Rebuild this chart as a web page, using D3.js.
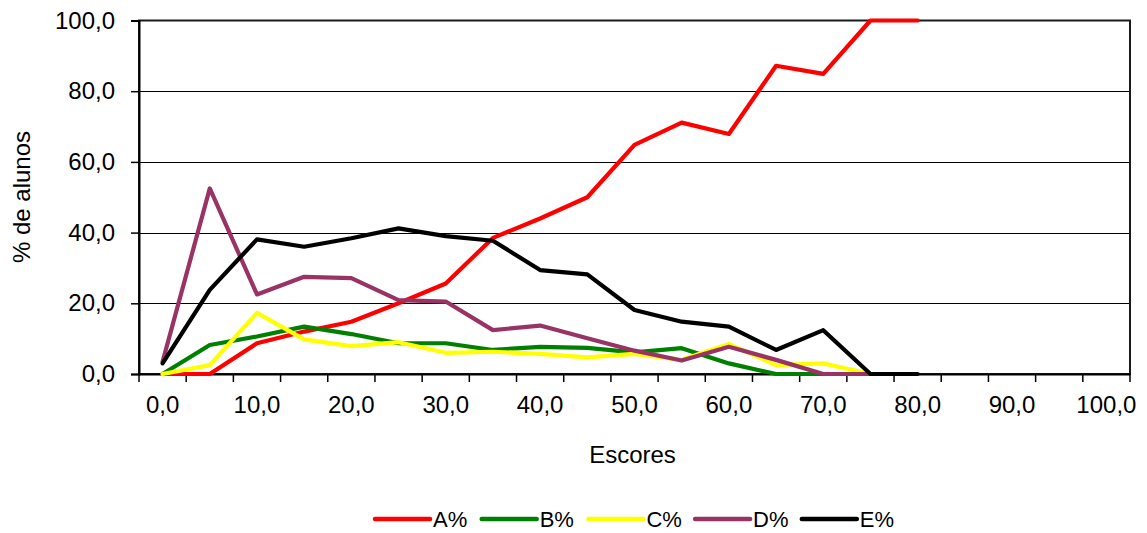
<!DOCTYPE html>
<html>
<head>
<meta charset="utf-8">
<script src="https://cdn.jsdelivr.net/npm/d3@7"></script>
<style>
  html, body { margin: 0; padding: 0; background: #fff; }
  svg { display: block; font-family: "Liberation Sans", Arial, sans-serif; }
</style>
</head>
<body>
<svg id="chart" width="1147" height="533"></svg>
<script>
// ---- data ----
const categories = ["0,0","5,0","10,0","15,0","20,0","25,0","30,0","35,0","40,0","45,0","50,0",
                    "55,0","60,0","65,0","70,0","75,0","80,0","85,0","90,0","95,0","100,0"];
const seriesNames = ["A%","B%","C%","D%","E%"];
const seriesColors = ["#FF0000","#008000","#FFFF00","#993366","#000000"];
const valuesA = [0, 0, 8.7, 12.0, 14.8, 20.0, 25.6, 38.5, 44.0, 50.0, 64.8, 71.1, 67.9, 87.2, 84.9, 100, 100];
const valuesB = [0, 8.2, 10.6, 13.4, 11.3, 8.7, 8.7, 6.8, 7.7, 7.4, 6.1, 7.3, 3.0, 0, 0];
const valuesC = [0, 2.5, 17.3, 9.8, 7.9, 9.0, 6.0, 6.3, 5.7, 4.7, 5.7, 4.0, 8.5, 2.5, 3.0, 0];
const valuesD = [3.5, 52.5, 22.5, 27.5, 27.1, 20.9, 20.5, 12.4, 13.7, 10.1, 6.6, 3.8, 7.7, 4.0, 0, 0];
const valuesE = [3.0, 23.8, 38.1, 36.0, 38.4, 41.2, 39.0, 37.7, 29.4, 28.2, 18.1, 14.8, 13.4, 6.8, 12.4, 0, 0];
const yTicks = [0, 20, 40, 60, 80, 100];
const xLabelEvery = 2;
const xTitle = "Escores";
const yTitle = "% de alunos";

const allValues = [valuesA, valuesB, valuesC, valuesD, valuesE];

// ---- layout ----
const svg = d3.select("#chart");
const pLeft = 139, pRight = 1130, pTop = 20.5, pBottom = 374;
const fontSize = 24;

const x = d3.scaleBand().domain(categories).range([pLeft, pRight]).padding(0);
const y = d3.scaleLinear().domain([0, 100]).range([pBottom, pTop]);

// gridlines
svg.append("g").selectAll("line")
  .data(yTicks.filter(d => d > 0 && d < 100))
  .join("line")
  .attr("x1", pLeft).attr("x2", pRight)
  .attr("y1", d => Math.round(y(d)) + 0.5).attr("y2", d => Math.round(y(d)) + 0.5)
  .attr("stroke", "#000").attr("stroke-width", 1);

// frame
svg.append("rect")
  .attr("x", pLeft).attr("y", pTop)
  .attr("width", pRight - pLeft).attr("height", pBottom - pTop)
  .attr("fill", "none").attr("stroke", "#1a1a1a").attr("stroke-width", 2);

// y axis
const yAxis = d3.axisLeft(y)
  .tickValues(yTicks)
  .tickSize(8)
  .tickPadding(16)
  .tickFormat(d => d.toFixed(1).replace(".", ","));
const gy = svg.append("g").attr("transform", `translate(${pLeft},0)`).call(yAxis);
gy.select(".domain").attr("stroke", "#000").attr("stroke-width", 2);
gy.selectAll(".tick line").attr("stroke", "#000").attr("stroke-width", 1.5);
gy.selectAll(".tick text")
  .attr("font-size", fontSize).attr("fill", "#000")
  .attr("font-family", "Liberation Sans, Arial, sans-serif");

// x axis labels (every 2nd category, centered in band)
const xAxis = d3.axisBottom(x)
  .tickValues(categories.filter((d, i) => i % xLabelEvery === 0))
  .tickSize(0)
  .tickPadding(22);
const gx = svg.append("g").attr("transform", `translate(0,${pBottom})`).call(xAxis);
gx.select(".domain").attr("stroke", "#000").attr("stroke-width", 2);
gx.selectAll(".tick text")
  .attr("font-size", fontSize).attr("fill", "#000")
  .attr("font-family", "Liberation Sans, Arial, sans-serif");

// x tick marks at band boundaries
const boundaries = categories.map(c => x(c)).concat([x(categories[categories.length - 1]) + x.bandwidth()]);
svg.append("g").selectAll("line")
  .data(boundaries)
  .join("line")
  .attr("x1", d => d).attr("x2", d => d)
  .attr("y1", pBottom).attr("y2", pBottom + 8)
  .attr("stroke", "#000").attr("stroke-width", 1.5);

// lines
const line = d3.line()
  .defined(d => d != null)
  .x((d, i) => x(categories[i]) + x.bandwidth() / 2)
  .y(d => y(d));

svg.append("g").selectAll("path")
  .data(allValues)
  .join("path")
  .attr("d", d => line(d))
  .attr("fill", "none")
  .attr("stroke", (d, i) => seriesColors[i])
  .attr("stroke-width", 4.2)
  .attr("stroke-linejoin", "round")
  .attr("stroke-linecap", "round");

// axis titles
svg.append("text")
  .attr("x", (pLeft + pRight) / 2 - 2).attr("y", 463)
  .attr("text-anchor", "middle")
  .attr("font-size", fontSize)
  .text(xTitle);

svg.append("text")
  .attr("transform", `translate(30,197) rotate(-90)`)
  .attr("text-anchor", "middle")
  .attr("font-size", fontSize)
  .text(yTitle);

// legend
const legendStart = 375, legendStep = 106.7, legendY = 519;
const lg = svg.append("g").selectAll("g")
  .data(seriesNames)
  .join("g")
  .attr("transform", (d, i) => `translate(${legendStart + i * legendStep},${legendY})`);
lg.append("line")
  .attr("x1", 0).attr("x2", 55).attr("y1", 0).attr("y2", 0)
  .attr("stroke", (d, i) => seriesColors[i])
  .attr("stroke-width", 4.5)
  .attr("stroke-linecap", "round");
lg.append("text")
  .attr("x", 58).attr("y", 8)
  .attr("font-size", 22)
  .text(d => d);
</script>
</body>
</html>
